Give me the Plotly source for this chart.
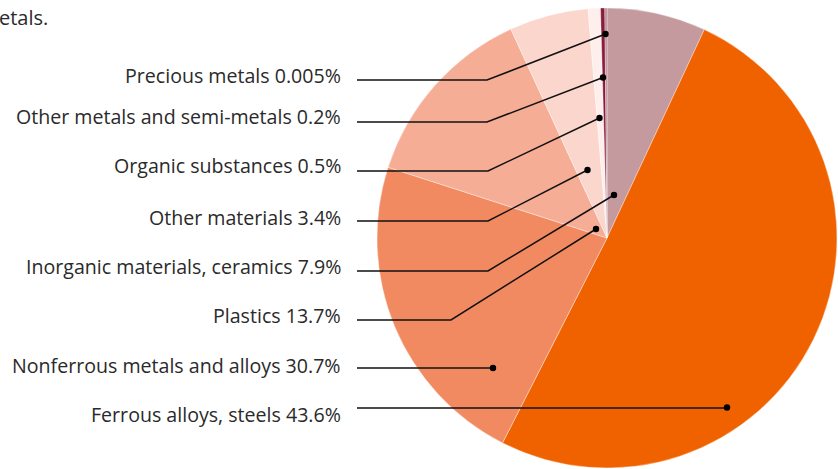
import plotly.graph_objects as go

# ---- data (slice sizes, labels as printed) ----
categories = ["Inorganic materials, ceramics", "Ferrous alloys, steels",
              "Nonferrous metals and alloys", "Plastics", "Other materials",
              "Organic substances", "Other metals and semi-metals", "Precious metals"]
slice_values = [6.95, 50.5, 22.45, 13.15, 5.55, 0.86, 0.30, 0.15]
label_texts = ["Precious metals 0.005%", "Other metals and semi-metals 0.2%",
               "Organic substances 0.5%", "Other materials 3.4%",
               "Inorganic materials, ceramics 7.9%", "Plastics 13.7%",
               "Nonferrous metals and alloys 30.7%", "Ferrous alloys, steels 43.6%"]
colors = ["#C49A9E", "#F06200", "#F28A61", "#F6AD96", "#FAD6CC",
          "#FFEFEC", "#8A1B3C", "#B8868E"]

# ---- layout constants (pixels) ----
W, H = 838, 469
cx, cy, R = 607, 238, 230
label_y = [75, 116, 165, 217, 266, 315, 365, 414]
line_y = [80, 122, 171, 221, 271, 320, 368, 408]
elbow_x = [487, 487, 488, 488, 488, 451, 493, 727]
dots = [(605.5, 34), (603, 77.5), (599.5, 118), (587.5, 170), (614, 195),
        (596, 229), (493, 368), (727, 407.5)]
FONT = "Open Sans"

fig = go.Figure()
fig.add_trace(go.Pie(
    labels=categories, values=slice_values, sort=False, direction="clockwise",
    rotation=0, textinfo="none", hoverinfo="label",
    marker=dict(colors=colors, line=dict(color="rgba(255,255,255,0.6)", width=0.6)),
    domain=dict(x=[(cx - R) / W, (cx + R) / W], y=[(H - cy - R) / H, (H - cy + R) / H]),
    showlegend=False,
))
# invisible anchor trace so the pixel-scaled axes exist
fig.add_trace(go.Scatter(x=[0, W], y=[0, H], mode="markers",
                         marker=dict(opacity=0), hoverinfo="skip", showlegend=False))

shapes = []
annotations = []
for i, txt in enumerate(label_texts):
    ly = line_y[i]
    ex = elbow_x[i]
    dx, dy = dots[i]
    path = f"M 357 {ly} L {ex} {ly} L {dx} {dy}"
    shapes.append(dict(type="path", path=path, xref="x", yref="y",
                       line=dict(color="#111111", width=1.5)))
    shapes.append(dict(type="circle", xref="x", yref="y",
                       x0=dx - 3.2, x1=dx + 3.2, y0=dy - 3.2, y1=dy + 3.2,
                       fillcolor="#000000", line=dict(width=0)))
    annotations.append(dict(text=txt, x=343, y=label_y[i], xref="x", yref="y",
                            xanchor="right", yanchor="middle", showarrow=False,
                            font=dict(family=FONT, size=19.6, color="#2a2a2a")))

annotations.append(dict(text="etals.", x=0, y=17, xref="x", yref="y", xshift=-3,
                        xanchor="left", yanchor="middle", showarrow=False,
                        font=dict(family=FONT, size=20, color="#2a2a2a")))

fig.update_layout(
    width=W, height=H, margin=dict(l=0, r=0, t=0, b=0),
    paper_bgcolor="white", plot_bgcolor="rgba(0,0,0,0)",
    xaxis=dict(range=[0, W], visible=False, fixedrange=True, domain=[0, 1]),
    yaxis=dict(range=[H, 0], visible=False, fixedrange=True, domain=[0, 1]),
    shapes=shapes, annotations=annotations,
)
fig.write_html("out.html", config={"displayModeBar": False},
               post_script="document.body.style.margin='0';document.body.style.padding='0';")
